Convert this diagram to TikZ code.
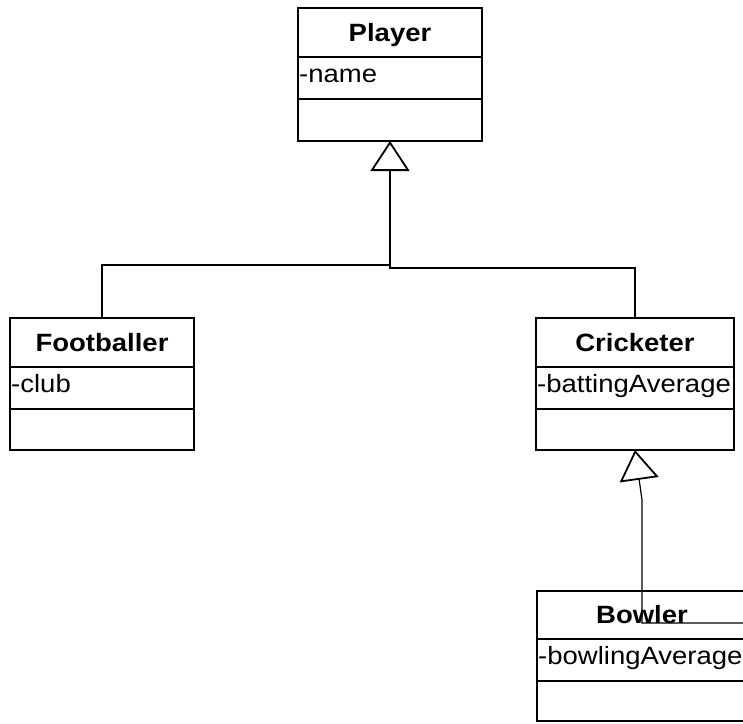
\documentclass[tikz,border=0pt]{standalone}
\usepackage{fontspec}
\setmainfont{Liberation Sans}[FakeStretch=1.1]
\usetikzlibrary{arrows.meta}
\begin{document}
\begin{tikzpicture}[x=1pt,y=-1pt,
  part/.style={draw=black, line width=1.8pt, inner sep=0pt, outer sep=0pt, minimum width=#1},
  titlebox/.style={part=#1, minimum height=49pt, text height=20pt, text depth=3pt,
    font=\fontsize{25}{30}\selectfont\bfseries},
  rowbox/.style={part=#1, minimum height=42pt, anchor=north},
  attrtext/.style={anchor=west, inner sep=0pt, xshift=1pt, text height=18pt,
    text depth=10pt, font=\fontsize{25}{30}\selectfont},
  conn/.style={draw=black, line width=1.2pt},
  gen/.style={conn, -{Triangle[open, length=30pt, width=39pt, line width=1.8pt]}}
]
% canvas
\fill[white] (0,0) rectangle (743,723);
\clip (0,0) rectangle (743,723);

% Player
\node[titlebox=184] (pT) at (390,32.5) {Player};
\node[rowbox=184] (pA) at (pT.south) {};
\node[attrtext] (pAt) at (pA.west) {-name};
\node[rowbox=184] (pO) at (pA.south) {};

% Footballer
\node[titlebox=184] (fT) at (102,342.5) {Footballer};
\node[rowbox=184] (fA) at (fT.south) {};
\node[attrtext] (fAt) at (fA.west) {-club};
\node[rowbox=184, minimum height=41pt] (fO) at (fA.south) {};

% Cricketer
\node[titlebox=198] (cT) at (635,342.5) {Cricketer};
\node[rowbox=198] (cA) at (cT.south) {};
\node[attrtext] (cAt) at (cA.west) {-battingAverage};
\node[rowbox=198, minimum height=41pt] (cO) at (cA.south) {};

% Bowler
\node[titlebox=210, minimum height=48pt] (bT) at (642,615) {Bowler};
\node[rowbox=210] (bA) at (bT.south) {};
\node[attrtext] (bAt) at (bA.west) {-bowlingAverage};
\node[rowbox=210, minimum height=40pt] (bO) at (bA.south) {};

% generalisation connectors
\coordinate (j1) at (390,265);
\coordinate (j2) at (390,268);
\draw[conn] (fT.north) |- (j1);
\draw[gen] (cT.north) |- (j2) -- (pO.south);

\coordinate (bEnd) at (750,623);
\coordinate (bBend) at (642,500);
\draw[gen] (bEnd) -- (bBend |- bEnd) -- (bBend) -- (cO.south);
\end{tikzpicture}
\end{document}
